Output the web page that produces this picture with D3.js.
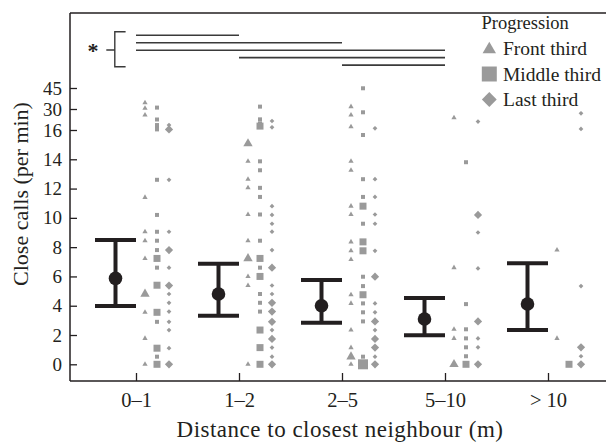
<!DOCTYPE html>
<html>
<head>
<meta charset="utf-8">
<script src="https://cdn.jsdelivr.net/npm/d3@7"></script>
<style>
  body { margin: 0; background: #fff; }
  svg { display: block; }
</style>
</head>
<body>
<svg id="chart" width="606" height="442"></svg>
<script>
// ---------- data ----------
const categories = ["0–1", "1–2", "2–5", "5–10", "> 10"];
const yTicks = [0, 2, 4, 6, 8, 10, 12, 14, 16, 30, 45];

const meanCalls  = [5.87, 4.80, 4.00, 3.09, 4.12];
const lowerCalls = [3.98, 3.32, 2.84, 1.98, 2.34];
const upperCalls = [8.48, 6.87, 5.75, 4.53, 6.90];

// individual observations per category (small markers)
const frontThird = [
  [34.5, 30.5, 26, 11.4, 9.05, 8.44, 7.23, 3.55, 1.77, 0],
  [13.86, 12.64, 12.05, 10.23, 8.44, 6.0, 5.38, 0],
  [31.7, 26, 18.2, 13.86, 13.25, 10.8, 10.23, 8.36, 7.75, 7.16, 4.75, 4.16, 2.34, 1.14, 0],
  [24.2, 6.6, 2.39, 1.77],
  [7.8, 1.77]
];
const middleThird = [
  [31, 23, 19.3, 17.1, 16.4, 12.6, 10.2, 9.05, 8.44, 7.8, 6.6, 2.9, 0.52],
  [31.7, 23.1, 20.4, 13.86, 13.25, 12.05, 11.43, 10.23, 8.44, 6.6, 4.8, 4.2, 3.6],
  [44.8, 27.8, 15.66, 12.64, 11.43, 9.6, 5.98, 5.34, 4.16, 3.55, 2.93, 0.52],
  [13.8, 4.11, 2.39, 1.77, 1.16, 0.55],
  []
];
const lastThird = [
  [19.3, 12.6, 9.05, 6.6, 4.8, 4.2, 3.6, 2.9, 2.34, 1.1],
  [22, 17.8, 10.8, 10.2, 9.6, 9.06, 7.8, 5.38, 4.8, 2.34, 1.14, 0.52],
  [17.1, 12.64, 11.43, 10.23, 9.6, 7.75, 4.16, 3.55, 2.34, 0.52],
  [21.6, 9.0, 6.55, 1.77, 1.16],
  [27.1, 16.7, 5.34, 0.55]
];
// larger markers (overlapping observations)
const frontThirdLarge = [[4.8], [15.07, 7.23], [0.52], [0], []];
const middleThirdLarge = [[7.23, 5.4, 3.55, 1.1, 0], [18.6, 7.23, 6.0, 2.34, 1.14, 0], [10.8, 8.36, 7.75, 4.75], [0], [0]];
const middleThirdXL = [[], [], [0], [], []];
const lastThirdLarge = [[16.4, 7.8, 5.38, 0], [6.6, 4.2, 3.6, 2.9, 1.73, 0], [5.98, 2.93, 1.73, 1.14, 0], [10.2, 2.93, 0], [1.16, 0]];

const sigPairs = [["0–1", "1–2"], ["0–1", "2–5"], ["0–1", "5–10"], ["1–2", "5–10"], ["2–5", "5–10"]];
const legendLabels = ["Front third", "Middle third", "Last third"];

// ---------- setup ----------
const svg = d3.select("#chart");
const ink = "#231f20";
const grey = "#9a9a9a";
const serifFont = '"Liberation Serif"';

const frameL = 70, frameR = 606, frameT = 13, frameB = 381;

const x = d3.scalePoint().domain(categories).range([136, 548]);
const y = d3.scaleLinear().domain([0, 16, 30, 45]).range([364.3, 130, 109, 88]);

// frame
svg.append("line").attr("x1", frameL).attr("x2", frameL).attr("y1", frameT).attr("y2", frameB)
  .attr("stroke", ink).attr("stroke-width", 1.5);
svg.append("line").attr("x1", frameL).attr("x2", frameR).attr("y1", frameT).attr("y2", frameT)
  .attr("stroke", ink).attr("stroke-width", 1.5);
svg.append("line").attr("x1", frameL).attr("x2", frameR).attr("y1", frameB).attr("y2", frameB)
  .attr("stroke", ink).attr("stroke-width", 1.5);

// y axis
const yAxis = svg.append("g").attr("transform", `translate(${frameL},0)`)
  .call(d3.axisLeft(y).tickValues(yTicks).tickFormat(d3.format("d")).tickSize(-7).tickPadding(8));
yAxis.attr("font-family", null);
yAxis.select(".domain").remove();
yAxis.selectAll(".tick line").attr("stroke", ink).attr("stroke-width", 1.3);
yAxis.selectAll(".tick text").style("font-family", serifFont).style("font-size", "19px").attr("fill", ink);

// x axis
const xAxis = svg.append("g").attr("transform", `translate(0,${frameB})`)
  .call(d3.axisBottom(x).tickSize(-8).tickPadding(11));
xAxis.attr("font-family", null);
xAxis.select(".domain").remove();
xAxis.selectAll(".tick line").attr("stroke", ink).attr("stroke-width", 1.3);
xAxis.selectAll(".tick text").style("font-family", serifFont).style("font-size", "20.5px").attr("fill", ink);

// axis titles
svg.append("text").attr("transform", "translate(28,194) rotate(-90)")
  .attr("text-anchor", "middle").style("font-family", serifFont).style("font-size", "22px")
  .attr("fill", ink).text("Close calls (per min)");
svg.append("text").attr("x", 340).attr("y", 437)
  .attr("text-anchor", "middle").style("font-family", serifFont).style("font-size", "23px")
  .style("letter-spacing", "0.5px").attr("fill", ink).text("Distance to closest neighbour (m)");

// ---------- observation markers ----------
const series = [
  { small: frontThird, large: frontThirdLarge, xl: null, off: 9, type: d3.symbolTriangle, sizes: [12, 38, 60], rot: 0 },
  { small: middleThird, large: middleThirdLarge, xl: middleThirdXL, off: 21, type: d3.symbolSquare, sizes: [16, 49, 100], rot: 0 },
  { small: lastThird, large: lastThirdLarge, xl: null, off: 33, type: d3.symbolSquare, sizes: [11, 34, 60], rot: 45 }
];
const pts = svg.append("g");
series.forEach(s => {
  const add = (arr, sizeIdx) => {
    if (!arr) return;
    arr.forEach((vals, ci) => {
      vals.forEach(v => {
        pts.append("path")
          .attr("d", d3.symbol().type(s.type).size(s.sizes[sizeIdx])())
          .attr("transform", `translate(${x(categories[ci]) + s.off},${y(v)}) rotate(${s.rot})`)
          .attr("fill", grey);
      });
    });
  };
  add(s.small, 0);
  add(s.large, 1);
  add(s.xl, 2);
});

// ---------- mean ± error ----------
const eb = svg.append("g");
categories.forEach((c, i) => {
  const cx = x(c) - 20.5;
  eb.append("line").attr("x1", cx).attr("x2", cx).attr("y1", y(upperCalls[i])).attr("y2", y(lowerCalls[i]))
    .attr("stroke", ink).attr("stroke-width", 4);
  [upperCalls[i], lowerCalls[i]].forEach(v => {
    eb.append("line").attr("x1", cx - 20.5).attr("x2", cx + 20.5).attr("y1", y(v)).attr("y2", y(v))
      .attr("stroke", ink).attr("stroke-width", 4);
  });
  eb.append("circle").attr("cx", cx).attr("cy", y(meanCalls[i])).attr("r", 6.8).attr("fill", ink);
});

// ---------- significance lines ----------
const sig = svg.append("g");
sigPairs.forEach((p, i) => {
  const yy = 35.3 + i * 7.45;
  sig.append("line").attr("x1", x(p[0])).attr("x2", x(p[1])).attr("y1", yy).attr("y2", yy)
    .attr("stroke", "#3a3a3a").attr("stroke-width", 1.6);
});
sig.append("path")
  .attr("d", "M125.6,31.7 H114.8 V66.7 H125.6 M114.8,50 H106.3")
  .attr("fill", "none").attr("stroke", "#3a3a3a").attr("stroke-width", 1.4);
sig.append("text").attr("x", 93).attr("y", 58).attr("text-anchor", "middle")
  .style("font-family", serifFont).style("font-size", "22px").attr("font-weight", "bold")
  .attr("fill", ink).text("*");

// ---------- legend ----------
const lg = svg.append("g");
lg.append("text").attr("x", 481.5).attr("y", 29).style("font-family", serifFont)
  .style("font-size", "18.5px").attr("fill", ink).text("Progression");
const legendSym = [
  { type: d3.symbolTriangle, size: 78, rot: 0 },
  { type: d3.symbolSquare, size: 225, rot: 0 },
  { type: d3.symbolSquare, size: 110, rot: 45 }
];
legendLabels.forEach((t, i) => {
  const cy = 48.5 + i * 25.5;
  lg.append("path").attr("d", d3.symbol().type(legendSym[i].type).size(legendSym[i].size)())
    .attr("transform", `translate(489.3,${cy + (i === 0 ? 1 : 0)}) rotate(${legendSym[i].rot})`)
    .attr("fill", grey);
  lg.append("text").attr("x", 503).attr("y", cy + 6.5).style("font-family", serifFont)
    .style("font-size", "19.5px").attr("fill", ink).text(t);
});
</script>
</body>
</html>
